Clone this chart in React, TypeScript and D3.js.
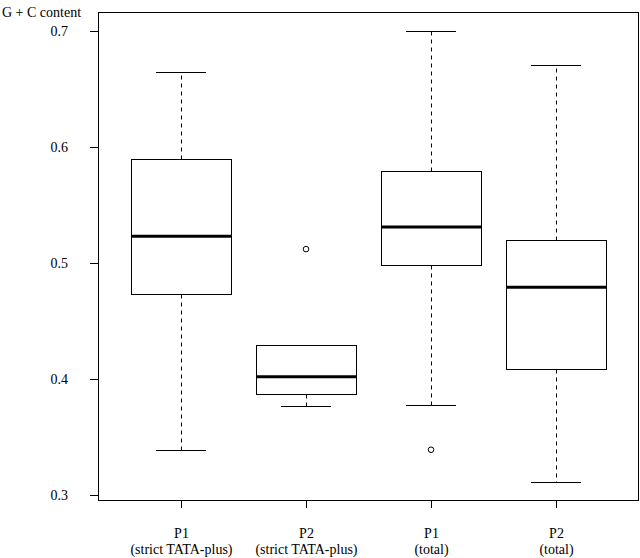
import React from "react";
import * as d3 from "d3";

const categories = ["P1|(strict TATA-plus)", "P2|(strict TATA-plus)", "P1|(total)", "P2|(total)"];
const whiskerLow = [0.339, 0.377, 0.378, 0.311];
const q1 = [0.473, 0.387, 0.498, 0.409];
const medians = [0.523, 0.402, 0.531, 0.479];
const q3 = [0.590, 0.429, 0.579, 0.520];
const whiskerHigh = [0.665, 0.429, 0.700, 0.671];
const outliers: [number, number][] = [[1, 0.512], [2, 0.339]];
const yTicks = [0.3, 0.4, 0.5, 0.6, 0.7];
const yTitle = "G + C content";

export default function App() {
  const W = 640, H = 558;
  const x = d3.scaleLinear().domain([0, 3]).range([181, 556]);
  const y = d3.scaleLinear().domain([0.3, 0.7]).range([495, 31]);
  const unit = x(1) - x(0);
  const left = x(-0.66), right = x(3.66);
  const top = 12, bottom = 500;
  const halfBox = unit * 0.4;
  const halfStaple = unit * 0.2;
  const font = "'Liberation Serif', 'DejaVu Serif', serif";
  const r = (v: number) => Math.round(v) + 0.5;
  const ts = { fontFamily: font, fontSize: "14px" } as React.CSSProperties;

  return (
    <svg width={W} height={H} style={{ position: "absolute", left: 0, top: 0, background: "#fff" }}>
      <g fill="#000">
        <text x={2} y={17} style={ts}>{yTitle}</text>
        {yTicks.map((t) => (
          <g key={t}>
            <line x1={90} x2={left} y1={r(y(t))} y2={r(y(t))} stroke="#000" />
            <text x={68} y={y(t) + 5} textAnchor="end" style={ts}>{t.toFixed(1)}</text>
          </g>
        ))}
        {categories.map((c, i) => {
          const cx = r(x(i));
          const [l1, l2] = c.split("|");
          return (
            <g key={c}>
              <line x1={cx} x2={cx} y1={bottom} y2={bottom + 8} stroke="#000" />
              <text x={cx} y={538} textAnchor="middle" style={ts}>{l1}</text>
              <text x={cx} y={554} textAnchor="middle" style={ts}>{l2}</text>
            </g>
          );
        })}
      </g>
      {categories.map((c, i) => {
        const cx = r(x(i));
        const bl = r(x(i) - halfBox), br = r(x(i) + halfBox);
        const sl = x(i) - halfStaple, sr = x(i) + halfStaple;
        return (
          <g key={"b" + c} stroke="#000" fill="none">
            <line x1={cx} x2={cx} y1={r(y(q3[i]))} y2={r(y(whiskerHigh[i]))} strokeDasharray="4 4" />
            <line x1={cx} x2={cx} y1={r(y(q1[i]))} y2={r(y(whiskerLow[i]))} strokeDasharray="4 4" />
            <line x1={sl} x2={sr} y1={r(y(whiskerHigh[i]))} y2={r(y(whiskerHigh[i]))} />
            <line x1={sl} x2={sr} y1={r(y(whiskerLow[i]))} y2={r(y(whiskerLow[i]))} />
            <rect x={bl} width={br - bl} y={r(y(q3[i]))} height={r(y(q1[i])) - r(y(q3[i]))} fill="#fff" />
            <line x1={bl} x2={br} y1={y(medians[i])} y2={y(medians[i])} strokeWidth={3} />
          </g>
        );
      })}
      {outliers.map(([i, v], k) => (
        <circle key={k} cx={x(i)} cy={y(v)} r={2.8} fill="none" stroke="#000" />
      ))}
      <rect x={r(left)} y={r(top)} width={Math.round(right - left)} height={bottom - top} fill="none" stroke="#000" />
    </svg>
  );
}
